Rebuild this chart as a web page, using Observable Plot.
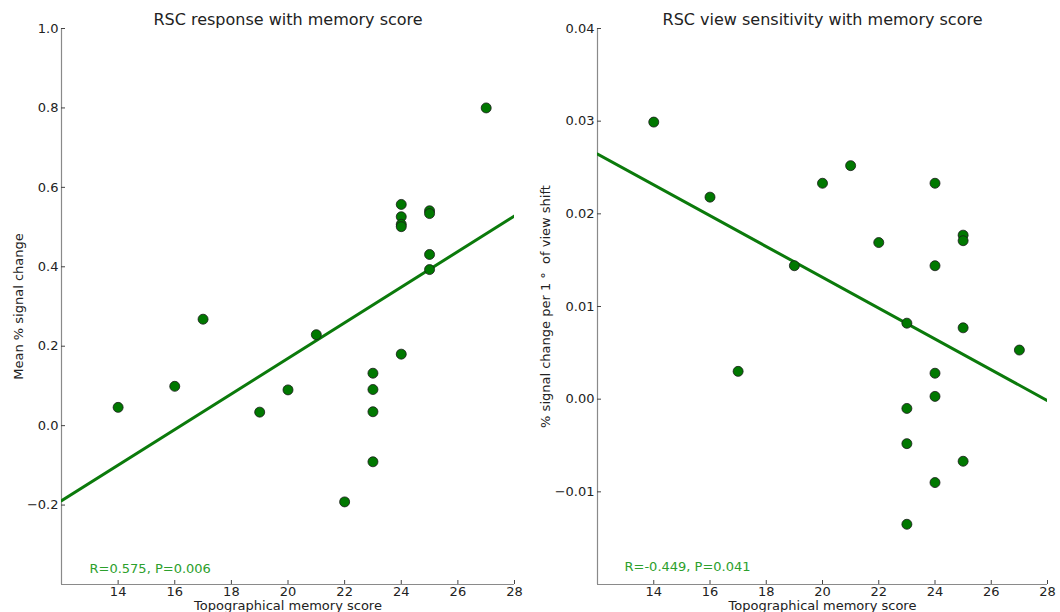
<!DOCTYPE html>
<html><head><meta charset="utf-8">
<script src="https://cdn.jsdelivr.net/npm/d3@7"></script>
<script src="https://cdn.jsdelivr.net/npm/@observablehq/plot@0.6"></script>
<style>
body{margin:0;background:#fff;font-family:"DejaVu Sans",sans-serif}
#wrap{display:flex;width:1060px;height:612px;overflow:hidden}
</style>
</head><body><div id="wrap"></div>
<script>
// Subjects' topographical memory scores (same for both panels)
const scores = [14,16,17,19,20,21,22,23,23,23,23,24,24,24,24,24,25,25,25,25,27];
// Left panel: mean % signal change
const response = [0.046,0.099,0.268,0.034,0.090,0.229,-0.192,0.132,0.091,0.035,-0.091,0.180,0.557,0.526,0.507,0.501,0.541,0.534,0.431,0.393,0.800];
// Right panel: % signal change per 1° of view shift
const viewSens = [0.0299,0.0218,0.0030,0.0144,0.0233,0.0252,0.0169,0.0082,-0.0010,-0.0048,-0.0135,0.0233,0.0144,0.0028,0.0003,-0.0090,0.0177,0.0171,0.0077,-0.0067,0.0053];
const xTicks = [14,16,18,20,22,24,26,28];
const responseTicks = [-0.2,0,0.2,0.4,0.6,0.8,1.0];
const viewTicks = [-0.01,0,0.01,0.02,0.03,0.04];
const titles = ["RSC response with memory score","RSC view sensitivity with memory score"];
const yLabels = ["Mean % signal change","% signal change per 1\u00A0\u00B0\u00A0 of view shift"];
const xLabel = "Topographical memory score";
const stats = ["R=0.575, P=0.006","R=-0.449, P=0.041"];
const xDomain = [12,28];
const yDomains = [[-0.4,1.0],[-0.02,0.04]];

function panel(i, ys, yTicks, fmt, ml, mr, ylabDx, statDx, statDy) {
  const mx = d3.mean(scores), my = d3.mean(ys);
  const slope = d3.sum(scores,(x,j)=>(x-mx)*(ys[j]-my)) / d3.sum(scores,x=>(x-mx)**2);
  const fit = xDomain.map(x=>({x, y: my + slope*(x-mx)}));
  const pts = scores.map((x,j)=>({x, y: ys[j]}));
  return Plot.plot({
    width:530, height:612, marginTop:28, marginBottom:28, marginLeft:ml, marginRight:mr,
    style:{fontFamily:"DejaVu Sans, sans-serif", fontSize:"13px", color:"#222", background:"#fff", overflow:"visible"},
    x:{domain:xDomain},
    y:{domain:yDomains[i]},
    marks:[
      Plot.ruleX([xDomain[0]],{stroke:"#8a8a8a", strokeWidth:1.2}),
      Plot.ruleY([yDomains[i][0]],{stroke:"#8a8a8a", strokeWidth:1.2}),
      Plot.axisX({ticks:xTicks, tickSize:-4, tickPadding:6, tickFormat:d3.format("d"), label:null, fontSize:13, stroke:"#444"}),
      Plot.axisY({ticks:yTicks, tickSize:-4, tickPadding:7, tickFormat:fmt, label:null, fontSize:13, stroke:"#444"}),
      Plot.line(fit,{x:"x", y:"y", stroke:"#0b7a0b", strokeWidth:3, clip:true}),
      Plot.dot(pts,{x:"x", y:"y", r:5, fill:"#007800", stroke:"#1a1a1a", strokeWidth:0.8}),
      Plot.text([titles[i]],{text:d=>d, frameAnchor:"top", lineAnchor:"middle", dy:-9, fontSize:16, fill:"#222"}),
      Plot.text([xLabel],{text:d=>d, frameAnchor:"bottom", lineAnchor:"middle", dy:21, fontSize:13, fill:"#222"}),
      Plot.text([yLabels[i]],{text:d=>d, frameAnchor:"left", textAnchor:"middle", lineAnchor:"middle", rotate:-90, dx:ylabDx, fontSize:13, fill:"#222"}),
      Plot.text([stats[i]],{text:d=>d, frameAnchor:"bottom-left", textAnchor:"start", lineAnchor:"middle", dx:statDx, dy:statDy, fontSize:13, fill:"#2ca02c"})
    ]
  });
}
const wrap = document.getElementById("wrap");
wrap.append(panel(0, response, responseTicks, d3.format(".1f"), 61, 16, -43, 28, -16));
wrap.append(panel(1, viewSens, viewTicks, d3.format(".2f"), 67, 13, -52, 27, -18));
</script>
</body></html>
